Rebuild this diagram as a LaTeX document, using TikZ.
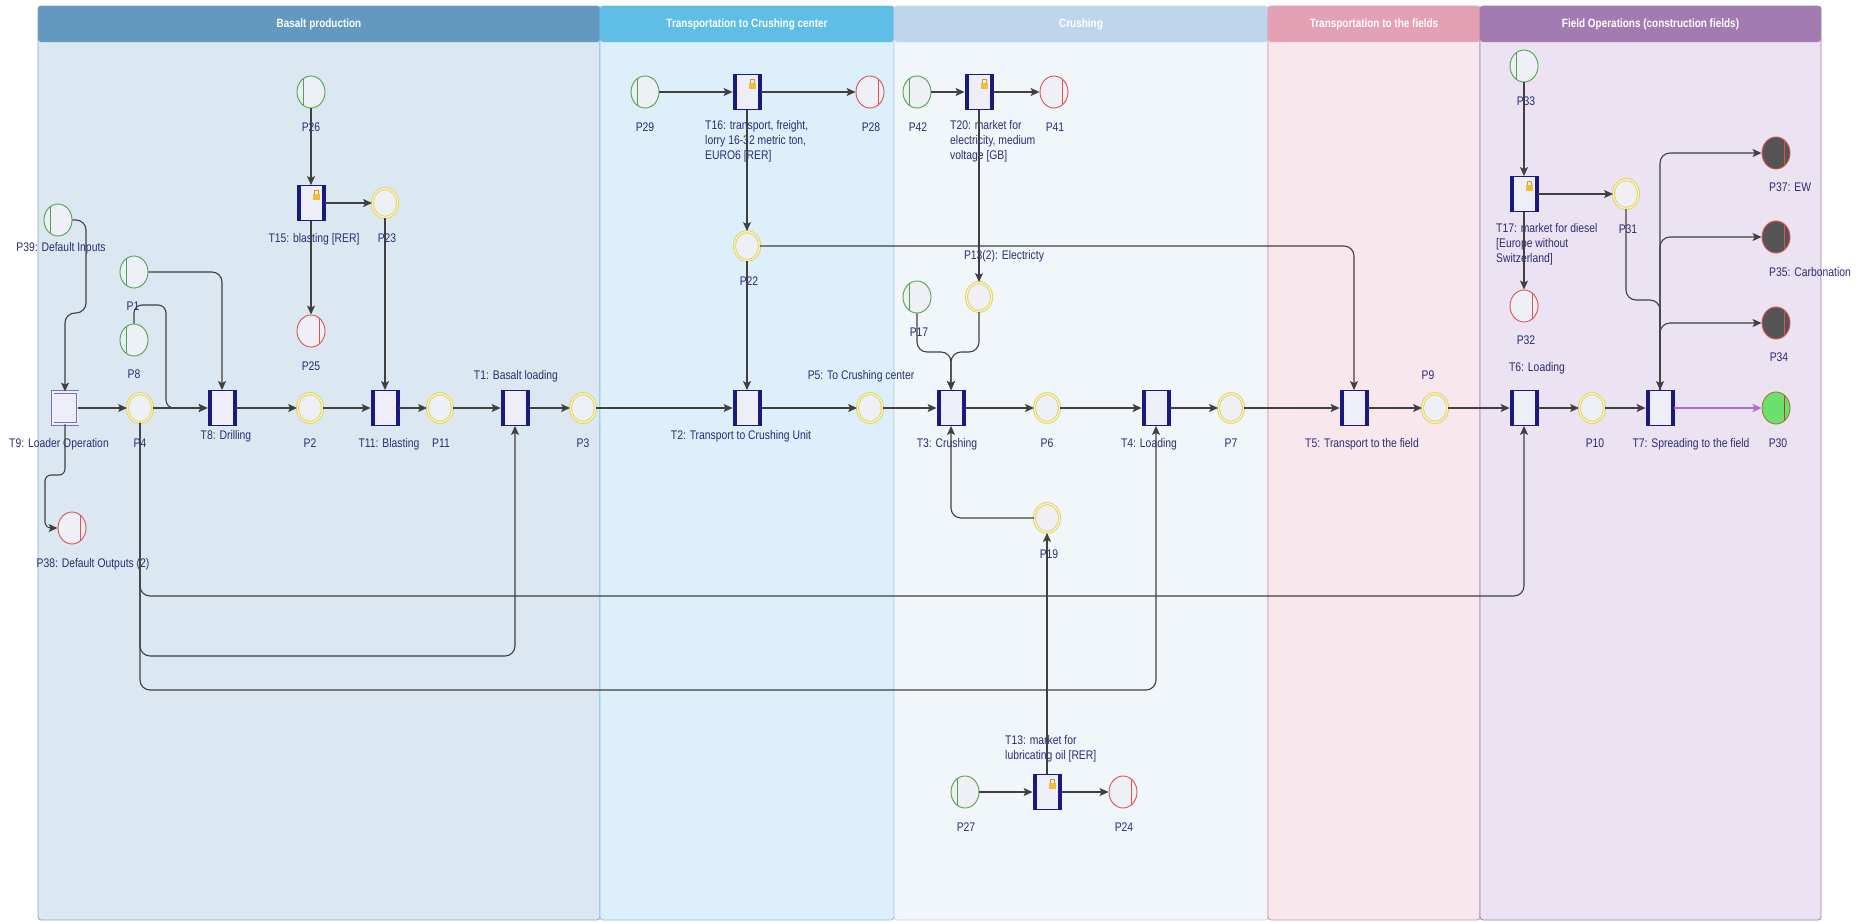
\documentclass[tikz,border=0pt]{standalone}
\usepackage{fontspec}
\setmainfont{Liberation Sans}[FakeStretch=0.83]
\usepackage{tikz}
\usetikzlibrary{arrows.meta,shapes.geometric}
\definecolor{cLine}{HTML}{404040}
\definecolor{cNavy}{HTML}{2C2C74}
\definecolor{cTr}{HTML}{1A1A7E}
\definecolor{cTfill}{HTML}{EEEEF8}
\definecolor{cPfill}{HTML}{EEF0F6}
\definecolor{cGreen}{HTML}{4FA34F}
\definecolor{cRed}{HTML}{D9534F}
\definecolor{cYel}{HTML}{E3D35A}
\definecolor{cYelIn}{HTML}{F8F3CF}
\definecolor{cSink}{HTML}{555555}
\definecolor{cFin}{HTML}{6CE06C}
\definecolor{cFinB}{HTML}{9C7A3C}
\definecolor{cLock}{HTML}{F2BE3A}
\definecolor{cLockD}{HTML}{D79A1E}
\definecolor{cLoad}{HTML}{7474B4}
\definecolor{cViolet}{HTML}{B468D8}
\definecolor{cHa}{HTML}{6398C0}\definecolor{cLa}{HTML}{DCE8F1}\definecolor{cBa}{HTML}{7FAACB}
\definecolor{cHb}{HTML}{5EBEE6}\definecolor{cLb}{HTML}{DDEFFA}\definecolor{cBb}{HTML}{7DC8E8}
\definecolor{cHc}{HTML}{BED6EC}\definecolor{cLc}{HTML}{F1F6FB}\definecolor{cBc}{HTML}{C6D9EC}
\definecolor{cHd}{HTML}{E4A0B4}\definecolor{cLd}{HTML}{F9E7EE}\definecolor{cBd}{HTML}{D98BA3}
\definecolor{cHe}{HTML}{A27CB0}\definecolor{cLe}{HTML}{EBE3F1}\definecolor{cBe}{HTML}{9F7DB0}
\newcommand{\trbars}{%
  \fill[cTr] (path picture bounding box.north west) rectangle ([xshift=3.5pt]path picture bounding box.south west);
  \fill[cTr] ([xshift=-3.5pt]path picture bounding box.north east) rectangle (path picture bounding box.south east);}
\newcommand{\trlockicon}{%
  \draw[cLockD,line width=0.8pt] ([xshift=-11pt,yshift=-8pt]path picture bounding box.north east)
    -- ([xshift=-11pt,yshift=-5pt]path picture bounding box.north east)
    -- ([xshift=-7pt,yshift=-5pt]path picture bounding box.north east)
    -- ([xshift=-7pt,yshift=-8pt]path picture bounding box.north east);
  \fill[cLock] ([xshift=-12.5pt,yshift=-8pt]path picture bounding box.north east) rectangle ([xshift=-5.5pt,yshift=-14pt]path picture bounding box.north east);}

\begin{document}
\begin{tikzpicture}[x=1pt,y=-1pt,font=\fontsize{12.5}{15}\selectfont,
  place/.style={ellipse,minimum width=28,minimum height=32,inner sep=0pt,
                line width=0.9pt,fill=cPfill},
  chordL/.style={path picture={\draw[#1,line width=0.9pt] ([xshift=6pt]path picture bounding box.north west)
                 -- ([xshift=6pt]path picture bounding box.south west);}},
  chordR/.style={path picture={\draw[#1,line width=0.9pt] ([xshift=-6pt]path picture bounding box.north east)
                 -- ([xshift=-6pt]path picture bounding box.south east);}},
  pin/.style={place,draw=cGreen,chordL=cGreen},
  pout/.style={place,draw=cRed,chordR=cRed},
  pmid/.style={place,minimum width=25,minimum height=29,draw=cYel,double=cYelIn,
               double distance=1.3pt},
  psink/.style={place,draw=cRed,fill=cSink,chordR=cRed},
  pfin/.style={place,draw=cFinB,fill=cFin,chordR=cRed!80!black},
  tr/.style={rectangle,minimum width=28,minimum height=35,inner sep=0pt,draw=cTr,
             line width=0.8pt,fill=cTfill,path picture=\trbars},
  trlock/.style={tr,path picture={\trbars\trlockicon}},
  trload/.style={rectangle,minimum width=25,minimum height=32,inner sep=0pt,draw=cLoad,
                 line width=0.9pt,double=cTfill,double distance=2pt,fill=cTfill},
  lane/.style={line width=0.8pt,rounded corners=3pt},
  lanehead/.style={minimum height=36,inner sep=0pt,text=white,rounded corners=3pt,
                   font=\fontsize{12}{14}\selectfont\bfseries},
  lblbase/.style={inner sep=0pt,text=cNavy},
  lbl/.style={lblbase,text height=9pt,text depth=0pt},
  lblm/.style={lblbase,align=left,anchor=north west},
  ar/.style={-{Stealth[length=9pt,width=8pt,inset=2pt]},line width=1.1pt,cLine,
             rounded corners=10pt}]

\useasboundingbox (0,0) rectangle (1874,921);

% swim lanes
\draw[lane,draw=cBa,fill=cLa] (38,6) rectangle (600,920);
\node[lanehead,fill=cHa,minimum width=562] (hdBasalt) at (319,24) {Basalt production};
\draw[lane,draw=cBb,fill=cLb] (600,6) rectangle (894,920);
\node[lanehead,fill=cHb,minimum width=294] (hdTransC) at (747,24) {Transportation to Crushing center};
\draw[lane,draw=cBc,fill=cLc] (894,6) rectangle (1268,920);
\node[lanehead,fill=cHc,minimum width=374] (hdCrush) at (1081,24) {Crushing};
\draw[lane,draw=cBd,fill=cLd] (1268,6) rectangle (1480,920);
\node[lanehead,fill=cHd,minimum width=212] (hdTransF) at (1374,24) {Transportation to the fields};
\draw[lane,draw=cBe,fill=cLe] (1480,6) rectangle (1821,920);
\node[lanehead,fill=cHe,minimum width=341] (hdField) at (1650.5,24) {Field Operations (construction fields)};

% main line
\node[trload] (T9)  at (65,408) {};
\node[pmid]   (P4)  at (140,408) {};
\node[tr]     (T8)  at (222,408) {};
\node[pmid]   (P2)  at (310,408) {};
\node[tr]     (T11) at (385,408) {};
\node[pmid]   (P11) at (440,408) {};
\node[tr]     (T1)  at (515,408) {};
\node[pmid]   (P3)  at (583,408) {};
\node[tr]     (T2)  at (747,408) {};
\node[pmid]   (P5)  at (870,408) {};
\node[tr]     (T3)  at (951,408) {};
\node[pmid]   (P6)  at (1047,408) {};
\node[tr]     (T4)  at (1156,408) {};
\node[pmid]   (P7)  at (1231,408) {};
\node[tr]     (T5)  at (1354,408) {};
\node[pmid]   (P9)  at (1435,408) {};
\node[tr]     (T6)  at (1524,408) {};
\node[pmid]   (P10) at (1592,408) {};
\node[tr]     (T7)  at (1660,408) {};
\node[pfin]   (P30) at (1776,408) {};

% basalt production
\node[pin]    (P26) at (311,92) {};
\node[trlock] (T15) at (311,203) {};
\node[pmid]   (P23) at (385,203) {};
\node[pout]   (P25) at (311,331) {};
\node[pin]    (P39) at (58,220) {};
\node[pin]    (P1)  at (134,272) {};
\node[pin]    (P8)  at (134,340) {};
\node[pout]   (P38) at (72,528) {};

% transport to crushing, crushing
\node[pin]    (P29) at (645,92) {};
\node[trlock] (T16) at (747,92) {};
\node[pout]   (P28) at (870,92) {};
\node[pmid]   (P22) at (747,246) {};
\node[pin]    (P42) at (917,92) {};
\node[trlock] (T20) at (979,92) {};
\node[pout]   (P41) at (1054,92) {};
\node[pmid]   (P13) at (979,297) {};
\node[pin]    (P17) at (917,297) {};
\node[pmid]   (P19) at (1047,518) {};
\node[pin]    (P27) at (965,792) {};
\node[trlock] (T13) at (1047,792) {};
\node[pout]   (P24) at (1123,792) {};

% field operations
\node[pin]    (P33) at (1524,66) {};
\node[trlock] (T17) at (1524,194) {};
\node[pmid]   (P31) at (1626,194) {};
\node[pout]   (P32) at (1524,306) {};
\node[psink]  (P37) at (1776,153) {};
\node[psink]  (P35) at (1776,237) {};
\node[psink]  (P34) at (1776,323) {};

% labels
\node[lbl] (lP26) at (311,127) {P26};
\node[lbl] (lT15) at (314,238) {T15: blasting [RER]};
\node[lbl] (lP23) at (387,238) {P23};
\node[lbl] (lP25) at (311,366) {P25};
\node[lbl] (lP39) at (61,247) {P39: Default Inputs};
\node[lbl] (lP1)  at (133,306) {P1};
\node[lbl] (lP8)  at (134,374) {P8};
\node[lbl] (lT9)  at (59,443) {T9: Loader Operation};
\node[lbl] (lP4)  at (140,443) {P4};
\node[lbl] (lT8)  at (226,435) {T8: Drilling};
\node[lbl] (lP2)  at (310,443) {P2};
\node[lbl] (lT11) at (389,443) {T11: Blasting};
\node[lbl] (lP11) at (441,443) {P11};
\node[lbl] (lT1)  at (516,375) {T1: Basalt loading};
\node[lbl] (lP3)  at (583,443) {P3};
\node[lbl] (lP38) at (93,563) {P38: Default Outputs (2)};
\node[lbl] (lP29) at (645,127) {P29};
\node[lblm] (lT16) at (705,120.5) {T16: transport, freight,\\lorry 16-32 metric ton,\\EURO6 [RER]};
\node[lbl] (lP28) at (871,127) {P28};
\node[lbl] (lP42) at (918,127) {P42};
\node[lblm] (lT20) at (950,120.5) {T20: market for\\electricity, medium\\voltage [GB]};
\node[lbl] (lP41) at (1055,127) {P41};
\node[lbl] (lP22) at (749,281) {P22};
\node[lbl] (lP13) at (1004,255) {P13(2): Electricty};
\node[lbl] (lP17) at (919,332) {P17};
\node[lbl] (lT2)  at (741,435) {T2: Transport to Crushing Unit};
\node[lbl] (lP5)  at (861,375) {P5: To Crushing center};
\node[lbl] (lT3)  at (947,443) {T3: Crushing};
\node[lbl] (lP6)  at (1047,443) {P6};
\node[lbl] (lT4)  at (1149,443) {T4: Loading};
\node[lbl] (lP7)  at (1231,443) {P7};
\node[lbl] (lP19) at (1049,554) {P19};
\node[lblm] (lT13) at (1005,735.5) {T13: market for\\lubricating oil [RER]};
\node[lbl] (lP27) at (966,827) {P27};
\node[lbl] (lP24) at (1124,827) {P24};
\node[lbl] (lT5)  at (1362,443) {T5: Transport to the field};
\node[lbl] (lP9)  at (1428,375) {P9};
\node[lbl] (lT6)  at (1537,367) {T6: Loading};
\node[lbl] (lP10) at (1595,443) {P10};
\node[lbl] (lT7)  at (1691,443) {T7: Spreading to the field};
\node[lbl] (lP30) at (1778,443) {P30};
\node[lbl] (lP33) at (1526,101) {P33};
\node[lblm] (lT17) at (1496,223.5) {T17: market for diesel\\{[}Europe without\\Switzerland{]}};
\node[lbl] (lP31) at (1628,229) {P31};
\node[lbl] (lP32) at (1526,340) {P32};
\node[lbl,anchor=west] (lP37) at (1769,187) {P37: EW};
\node[lbl,anchor=west] (lP35) at (1769,272) {P35: Carbonation};
\node[lbl] (lP34) at (1779,357) {P34};

% arcs
\draw[ar] (P26) -- (T15);
\draw[ar] (T15) -- (P23);
\draw[ar] (T15) -- (P25);
\draw[ar] (P23) -- (T11);
\draw[ar] (P39.east) -| (86,313) -| (T9.north);
\draw[ar] (P1.east) -| (T8.north);
\draw[ar,rounded corners=8pt] (P8.north) |- (166,305) |- (T8.west);
\draw[ar,rounded corners=6pt] (T9.south) |- (45,475) |- (P38.west);
\draw[ar] (T9) -- (P4);
\draw[ar] (P4) -- (T8);
\draw[ar] (T8) -- (P2);
\draw[ar] (P2) -- (T11);
\draw[ar] (T11) -- (P11);
\draw[ar] (P11) -- (T1);
\draw[ar] (T1) -- (P3);
\draw[ar] (P3) -- (T2);
\draw[ar] (T2) -- (P5);
\draw[ar] (P5) -- (T3);
\draw[ar] (T3) -- (P6);
\draw[ar] (P6) -- (T4);
\draw[ar] (T4) -- (P7);
\draw[ar] (P7) -- (T5);
\draw[ar] (T5) -- (P9);
\draw[ar] (P9) -- (T6);
\draw[ar] (T6) -- (P10);
\draw[ar] (P10) -- (T7);
\draw[ar,cViolet,line width=1.6pt] (T7) -- (P30);
\draw[ar] (P4.south) |- (330,656) -| (T1.south);
\draw[ar] (P4.south) |- (700,596) -| (T6.south);
\draw[ar] (P4.south) |- (700,690) -| (T4.south);
\draw[ar] (P29) -- (T16);
\draw[ar] (T16) -- (P28);
\draw[ar] (T16) -- (P22);
\draw[ar] (P22) -- (T2);
\draw[ar] (P22.east) -| (T5.north);
\draw[ar] (P42) -- (T20);
\draw[ar] (T20) -- (P41);
\draw[ar] (T20) -- (P13);
\draw[ar] (P17.south) |- (951,352) -- (T3.north);
\draw[ar] (P13.south) |- (951,352) -- (T3.north);
\draw[ar] (P19.west) -| (T3.south);
\draw[ar] (T13) -- (P19);
\draw[ar] (P27) -- (T13);
\draw[ar] (T13) -- (P24);
\draw[ar] (P33) -- (T17);
\draw[ar] (T17) -- (P31);
\draw[ar] (T17) -- (P32);
\draw[ar] (P31.south) |- (1660,300) -- (T7.north);
\draw[ar] (T7.north) |- (P37.west);
\draw[ar] (T7.north) |- (P35.west);
\draw[ar] (T7.north) |- (P34.west);
\end{tikzpicture}
\end{document}
